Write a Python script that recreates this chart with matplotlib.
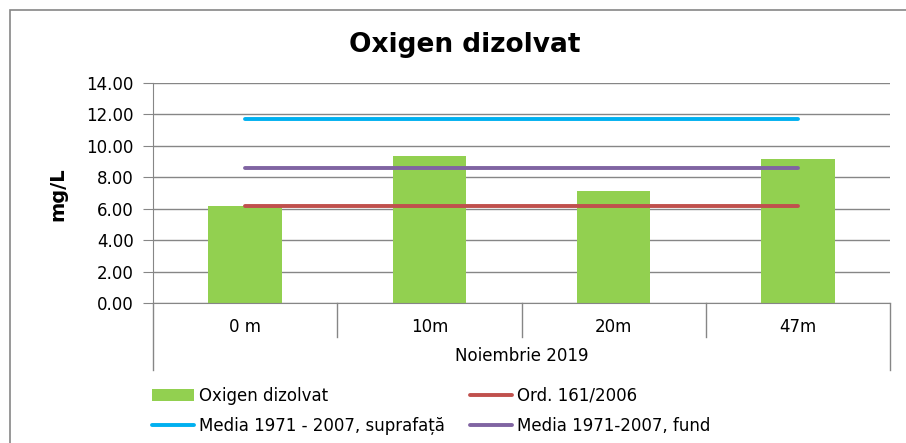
import matplotlib
matplotlib.use("Agg")
import matplotlib.pyplot as plt
from matplotlib.patches import Rectangle

# --- data ---
categories = ["0 m", "10m", "20m", "47m"]
group_label = "Noiembrie 2019"
oxigen = [6.2, 9.33, 7.13, 9.17]
ord_161 = [6.15, 6.15, 6.15, 6.15]
media_suprafata = [11.7, 11.7, 11.7, 11.7]
media_fund = [8.62, 8.62, 8.62, 8.62]
y_ticks = [0, 2, 4, 6, 8, 10, 12, 14]

W, H = 906, 443
grey = "#868686"

fig = plt.figure(figsize=(W / 100, H / 100), dpi=100)
plt.rcParams["font.family"] = "DejaVu Sans"

# outer chart frame (only left and top visible)
fig.add_artist(Rectangle((10 / W, -1), 2, 1 - 10 / H + 1, transform=fig.transFigure,
                         fill=False, edgecolor=grey, lw=1.2))

ax_h = 220
ax = fig.add_axes([153 / W, 1 - 303 / H, (890 - 153) / W, ax_h / H])
x = list(range(len(categories)))

bars = ax.bar(x, oxigen, width=0.4, color="#92D050", zorder=2, label="Oxigen dizolvat")
l_ord, = ax.plot(x, ord_161, color="#C0504D", lw=2.8, solid_capstyle="round", zorder=3,
                 label="Ord. 161/2006")
l_sup, = ax.plot(x, media_suprafata, color="#00B0F0", lw=2.8, solid_capstyle="round", zorder=3,
                 label="Media 1971 - 2007, suprafață")
l_fund, = ax.plot(x, media_fund, color="#8064A2", lw=2.8, solid_capstyle="round", zorder=3,
                  label="Media 1971-2007, fund")

ax.set_xlim(-0.5, 3.5)
ax.set_ylim(0, 14)
ax.set_yticks(y_ticks)
ax.set_yticklabels([f"{v:.2f}" for v in y_ticks], fontsize=12)
ax.yaxis.grid(True, color=grey, lw=1)
ax.set_axisbelow(True)
ax.tick_params(axis="y", length=7, color=grey, pad=7)
ax.set_xticks([])
for s in ["top", "right"]:
    ax.spines[s].set_visible(False)
for s in ["left", "bottom"]:
    ax.spines[s].set_color(grey)

# category axis with separators
tr = ax.get_xaxis_transform()
bounds = [i - 0.5 for i in range(len(categories) + 1)]
for i, b in enumerate(bounds):
    depth = 67 / ax_h if i in (0, len(bounds) - 1) else 34 / ax_h
    ax.plot([b, b], [0, -depth], transform=tr, clip_on=False, color=grey, lw=1)
for i, c in enumerate(categories):
    ax.text(i, -24 / ax_h, c, transform=tr, ha="center", va="center", fontsize=12)
ax.text(1.5, -53 / ax_h, group_label, transform=tr, ha="center", va="center", fontsize=12)

fig.text(465 / W, 1 - 45 / H, "Oxigen dizolvat", ha="center", va="center",
         fontsize=19, fontweight="bold")
fig.text(58 / W, 1 - 194 / H, "mg/L", rotation=90, ha="center", va="center",
         fontsize=14, fontweight="bold")

fig.legend(handles=[bars, l_sup, l_ord, l_fund], ncol=2, loc="upper left",
           bbox_to_anchor=(152 / W, 1 - 387 / H), frameon=False, fontsize=12,
           handlelength=2.5, handletextpad=0.3, columnspacing=1.55, labelspacing=0.7,
           borderpad=0, borderaxespad=0)

fig.savefig("out.png", dpi=100)
